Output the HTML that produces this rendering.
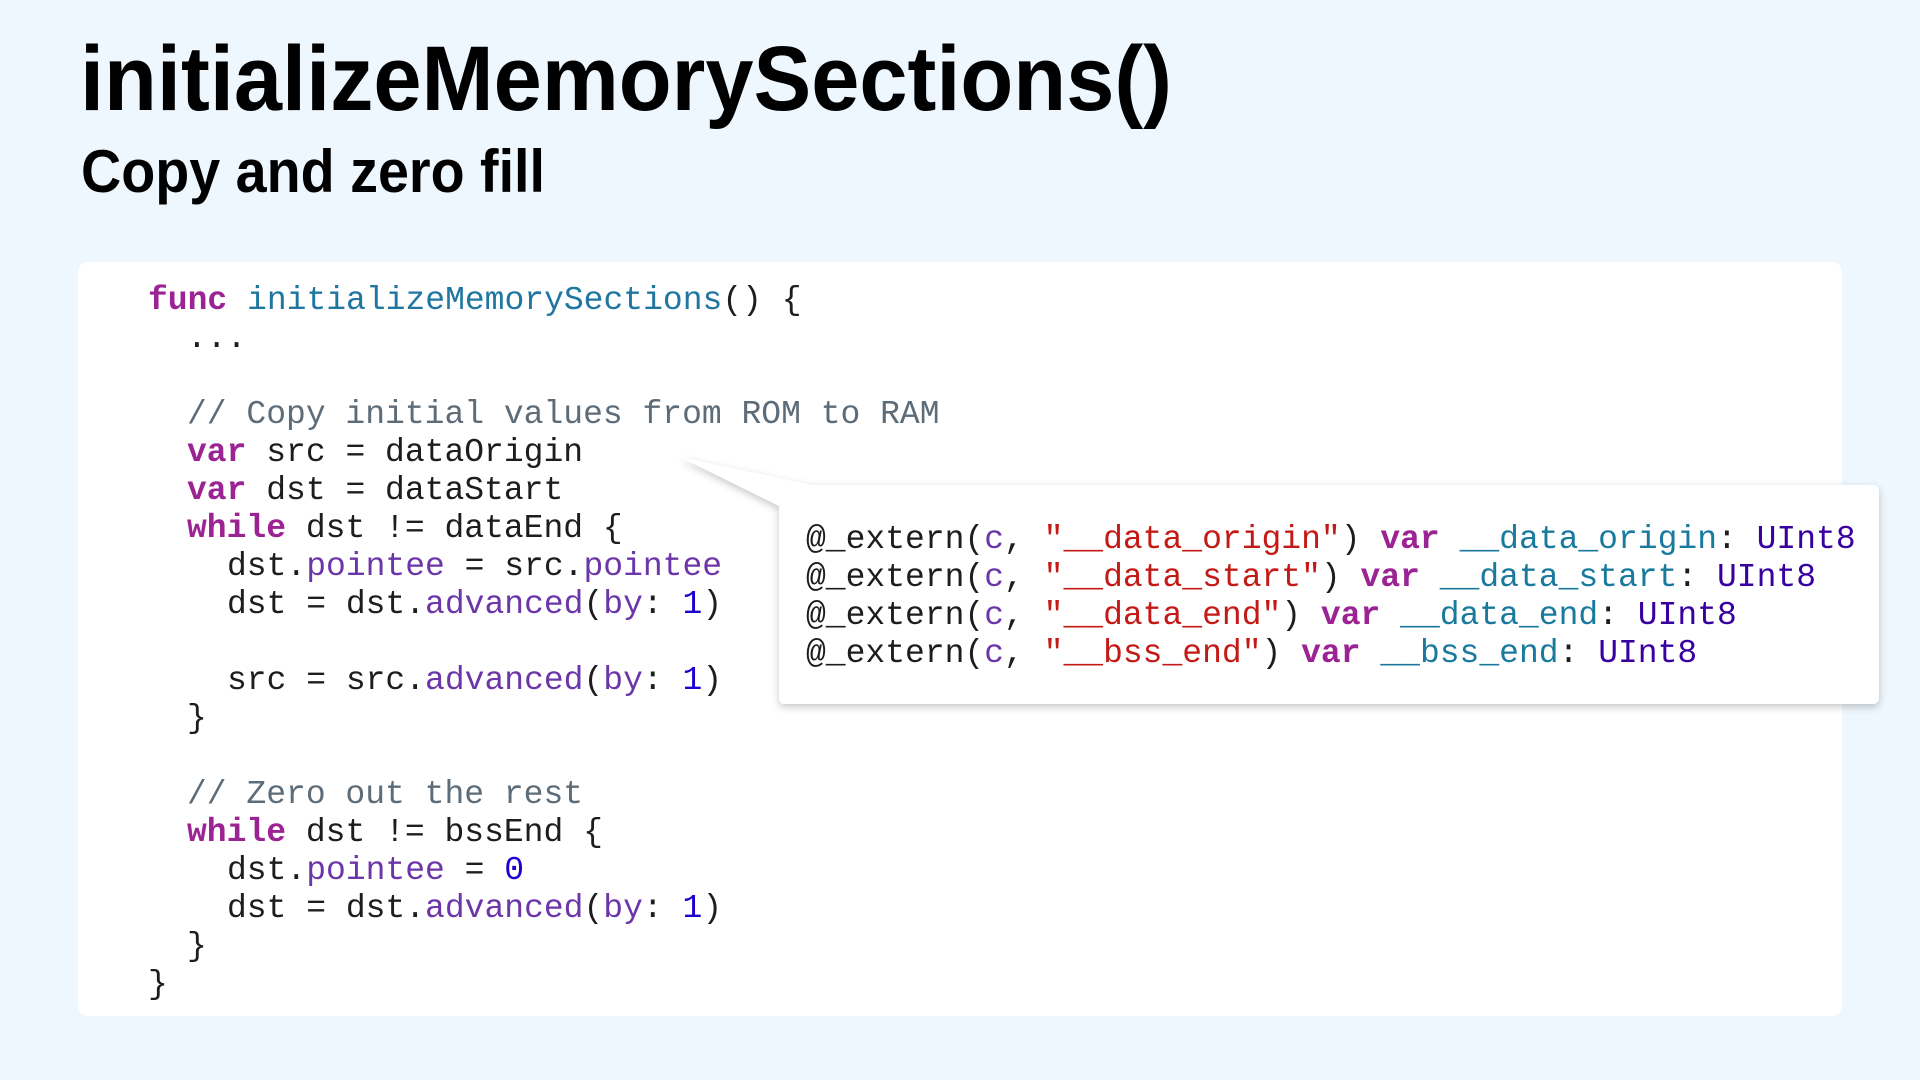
<!DOCTYPE html>
<html><head><meta charset="utf-8"><style>
html,body{margin:0;padding:0;background:#eef6fe;width:1920px;height:1080px;overflow:hidden}
svg{display:block}
.c{font-family:"Liberation Mono",monospace;font-size:33px;fill:#1d1d1f;white-space:pre}
.k{fill:#9b2393;font-weight:bold}
.f{fill:#1f76a0}
.p{fill:#6c36a9}
.n{fill:#1c00cf}
.s{fill:#c41a16}
.cm{fill:#5d6c79}
.t{fill:#3900a0}
.v{fill:#1a7a9e}
</style></head><body>
<svg width="1920" height="1080" viewBox="0 0 1920 1080" xmlns="http://www.w3.org/2000/svg">
<defs>
<filter id="sh" x="-5%" y="-20%" width="110%" height="140%">
<feDropShadow dx="0" dy="3" stdDeviation="4" flood-color="#000" flood-opacity="0.22"/>
</filter>
</defs>
<rect width="1920" height="1080" fill="#eef6fe"/>
<text x="80" y="110" font-family="'Liberation Sans',sans-serif" font-weight="bold" font-size="92" textLength="1092" lengthAdjust="spacingAndGlyphs" fill="#000">initializeMemorySections()</text>
<text x="81" y="192" font-family="'Liberation Sans',sans-serif" font-weight="bold" font-size="60" textLength="464" lengthAdjust="spacingAndGlyphs" fill="#000">Copy and zero fill</text>
<rect x="78" y="262" width="1764" height="754" rx="10" fill="#fff"/>
<g class="c">
<text x="148" y="309"><tspan class="k">func</tspan> <tspan class="f">initializeMemorySections</tspan>() {</text>
<text x="187" y="347">...</text>
<text x="187" y="423" class="cm">// Copy initial values from ROM to RAM</text>
<text x="187" y="461"><tspan class="k">var</tspan> src = dataOrigin</text>
<text x="187" y="499"><tspan class="k">var</tspan> dst = dataStart</text>
<text x="187" y="537"><tspan class="k">while</tspan> dst != dataEnd {</text>
<text x="227" y="575">dst.<tspan class="p">pointee</tspan> = src.<tspan class="p">pointee</tspan></text>
<text x="227" y="613">dst = dst.<tspan class="p">advanced</tspan>(<tspan class="p">by</tspan>: <tspan class="n">1</tspan>)</text>
<text x="227" y="689">src = src.<tspan class="p">advanced</tspan>(<tspan class="p">by</tspan>: <tspan class="n">1</tspan>)</text>
<text x="187" y="727">}</text>
<text x="187" y="803" class="cm">// Zero out the rest</text>
<text x="187" y="841"><tspan class="k">while</tspan> dst != bssEnd {</text>
<text x="227" y="879">dst.<tspan class="p">pointee</tspan> = <tspan class="n">0</tspan></text>
<text x="227" y="917">dst = dst.<tspan class="p">advanced</tspan>(<tspan class="p">by</tspan>: <tspan class="n">1</tspan>)</text>
<text x="187" y="955">}</text>
<text x="148" y="993">}</text>
</g>
<g filter="url(#sh)">
<path d="M680 457 L812 485 L1872 485 Q1879 485 1879 492 L1879 697 Q1879 704 1872 704 L785 704 Q779 704 779 697 L779 506 Z" fill="#fff"/>
</g>
<g class="c">
<text x="806" y="548">@_extern(<tspan class="p">c</tspan>, <tspan class="s">"__data_origin"</tspan>) <tspan class="k">var</tspan> <tspan class="v">__data_origin</tspan>: <tspan class="t">UInt8</tspan></text>
<text x="806" y="586">@_extern(<tspan class="p">c</tspan>, <tspan class="s">"__data_start"</tspan>) <tspan class="k">var</tspan> <tspan class="v">__data_start</tspan>: <tspan class="t">UInt8</tspan></text>
<text x="806" y="624">@_extern(<tspan class="p">c</tspan>, <tspan class="s">"__data_end"</tspan>) <tspan class="k">var</tspan> <tspan class="v">__data_end</tspan>: <tspan class="t">UInt8</tspan></text>
<text x="806" y="662">@_extern(<tspan class="p">c</tspan>, <tspan class="s">"__bss_end"</tspan>) <tspan class="k">var</tspan> <tspan class="v">__bss_end</tspan>: <tspan class="t">UInt8</tspan></text>
</g>
</svg>
</body></html>
